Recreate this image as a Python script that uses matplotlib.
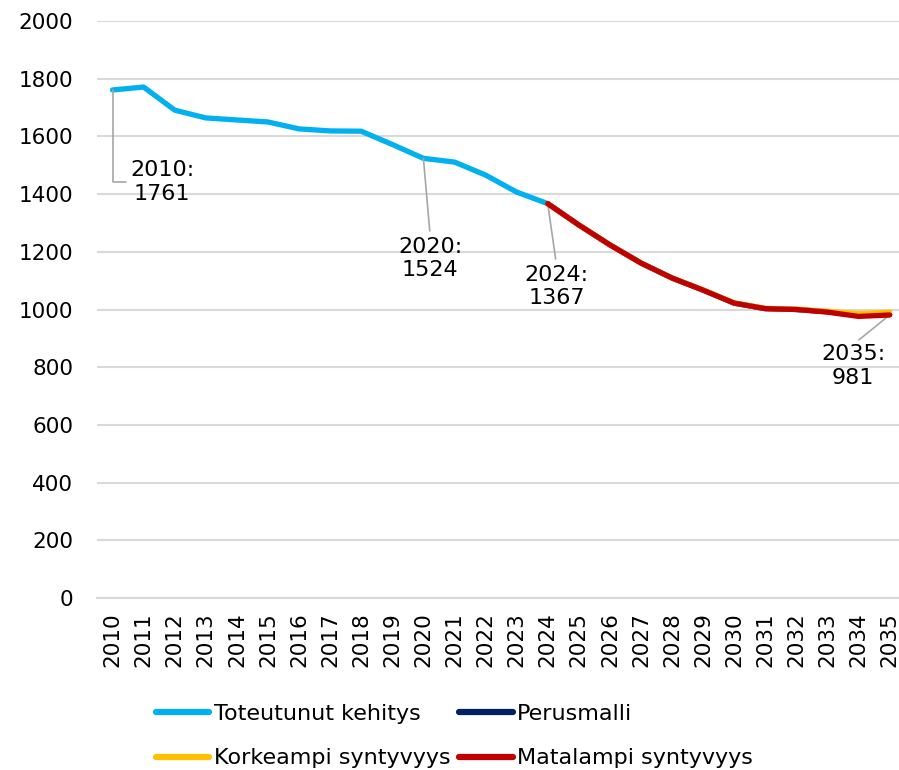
import numpy as np
import matplotlib.pyplot as plt

plt.rcParams['font.family'] = ['DejaVu Sans']

years = list(range(2010, 2036))
hist_years = list(range(2010, 2025))
fc_years = list(range(2024, 2036))

toteutunut = [1761, 1771, 1691, 1664, 1657, 1650, 1626, 1619, 1618, 1572,
              1524, 1511, 1466, 1407, 1367]
perusmalli = [1367, 1293, 1224, 1161, 1109, 1067, 1022, 1003, 1000, 992, 979, 983]
korkeampi = [1367, 1293, 1224, 1161, 1109, 1068, 1023, 1004, 1001, 994, 986, 991]
matalampi = [1367, 1293, 1224, 1161, 1109, 1067, 1022, 1003, 1000, 991, 976, 981]

ann_years = [2010, 2020, 2024, 2035]
ann_values = [1761, 1524, 1367, 981]

fig = plt.figure(figsize=(8.99, 7.70), dpi=100)
ax = fig.add_axes([97 / 899, 1 - 598 / 770, 1 - 97 / 899, 577 / 770])

lw = 3.8
l1, = ax.plot(hist_years, toteutunut, color='#00b0f0', lw=lw, solid_capstyle='round',
              label='Toteutunut kehitys', zorder=3)
l2, = ax.plot(fc_years, perusmalli, color='#002060', lw=lw, solid_capstyle='round',
              label='Perusmalli', zorder=4)
l3, = ax.plot(fc_years, korkeampi, color='#ffc000', lw=lw, solid_capstyle='round',
              label='Korkeampi syntyvyys', zorder=5)
l4, = ax.plot(fc_years, matalampi, color='#c00000', lw=lw, solid_capstyle='round',
              label='Matalampi syntyvyys', zorder=6)

ax.set_xlim(2009.5, 2035.3)
ax.set_ylim(0, 2000)
ax.set_yticks(np.arange(0, 2001, 200))
ax.set_xticks(years)
ax.set_xticklabels([str(y) for y in years], rotation=90)
ax.tick_params(axis='both', length=0, labelsize=15.5, colors='#000000')
ax.tick_params(axis='y', pad=17)
ax.tick_params(axis='x', pad=10)
ax.grid(axis='y', color='#d9d9d9', lw=1.5)
ax.set_axisbelow(True)
for s in ['top', 'right', 'left']:
    ax.spines[s].set_visible(False)
ax.spines['bottom'].set_color('#d9d9d9')
ax.spines['bottom'].set_linewidth(1.5)

conn = dict(arrowstyle='-', color='#a6a6a6', lw=1.2, shrinkA=0, shrinkB=0)
fs = 16
# 2010 label with elbow connector
ax.annotate(f"{ann_years[0]}:\n{ann_values[0]}", xy=(ann_years[0], ann_values[0]),
            xytext=(2011.6, 1442), ha='center', va='center', fontsize=fs,
            arrowprops=dict(conn, connectionstyle='angle,angleA=0,angleB=90,rad=0',
                            relpos=(0, 0.5), shrinkA=1))
ax.annotate(f"{ann_years[1]}:\n{ann_values[1]}", xy=(ann_years[1], ann_values[1]),
            xytext=(2020.22, 1178), ha='center', va='center', fontsize=fs,
            arrowprops=dict(conn, relpos=(0.5, 1.0), shrinkA=2))
ax.annotate(f"{ann_years[2]}:\n{ann_values[2]}", xy=(ann_years[2], ann_values[2]),
            xytext=(2024.28, 1081), ha='center', va='center', fontsize=fs,
            arrowprops=dict(conn, relpos=(0.5, 1.0), shrinkA=2))
ax.annotate(f"{ann_years[3]}:\n{ann_values[3]}", xy=(ann_years[3], ann_values[3]),
            xytext=(2033.83, 804), ha='center', va='center', fontsize=fs,
            arrowprops=dict(conn, relpos=(0.5, 1.0), shrinkA=2))

# row-wise legend order
leg = fig.legend([l1, l3, l2, l4], [l.get_label() for l in (l1, l3, l2, l4)],
                 loc='lower left', bbox_to_anchor=(136 / 899, -0.024), ncol=2,
                 frameon=False, fontsize=fs, handlelength=2.4, handletextpad=0.2,
                 columnspacing=0.4, labelspacing=1.1)
for h in leg.get_lines():
    h.set_linewidth(4.5)

fig.savefig('out.png', dpi=100)
